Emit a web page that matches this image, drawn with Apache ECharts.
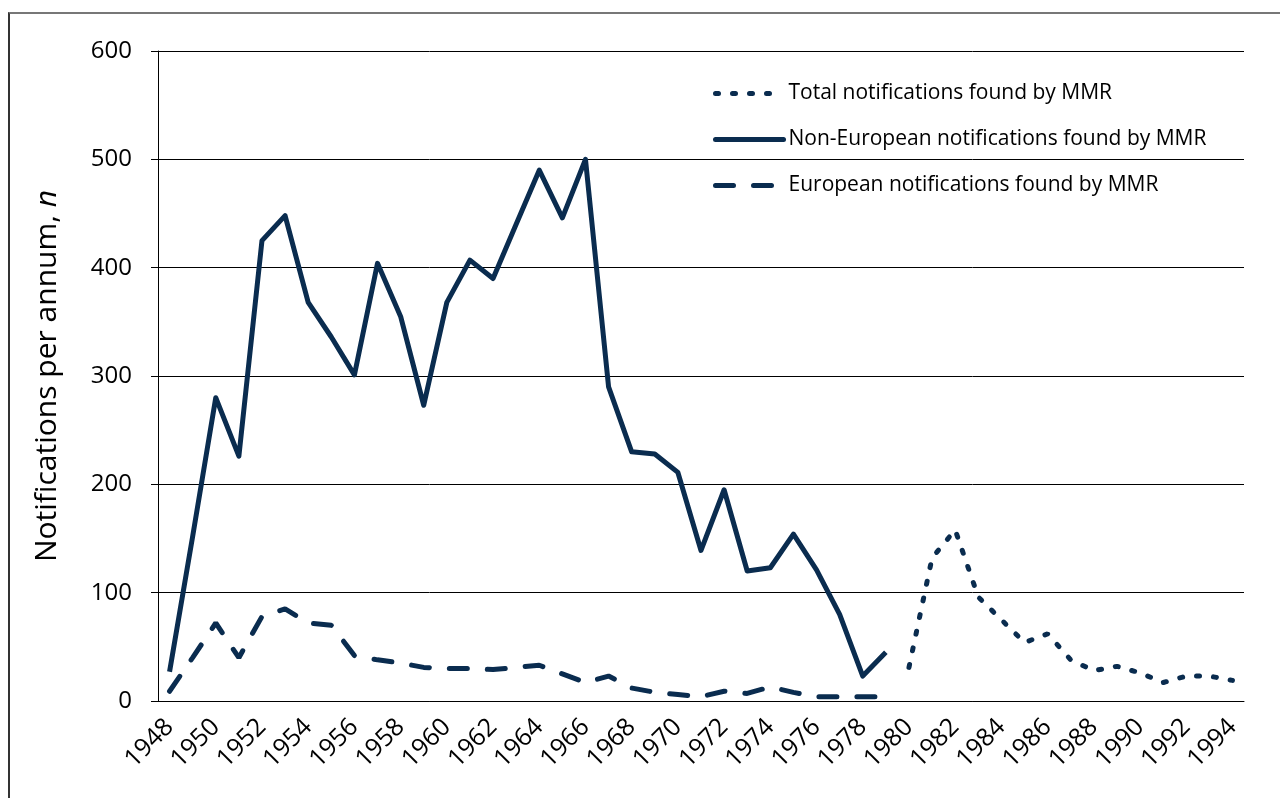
<!DOCTYPE html>
<html>
<head>
<meta charset="utf-8">
<script src="https://cdn.jsdelivr.net/npm/echarts@6/dist/echarts.min.js"></script>
<style>
    html, body { margin: 0; padding: 0; background: #fff; }
    #frame {
        position: absolute; left: 8px; top: 12px; width: 1290px; height: 800px;
        border-left: 2px solid #333; border-top: 2px solid #777;
    }
    #chart { position: absolute; left: 0; top: 0; width: 1280px; height: 798px; }
</style>
</head>
<body>
<div id="frame"></div>
<div id="chart"></div>
<script>
// 年份 (x 轴类目)
const years = ['1948', '1949', '1950', '1951', '1952', '1953', '1954', '1955', '1956', '1957',
    '1958', '1959', '1960', '1961', '1962', '1963', '1964', '1965', '1966', '1967',
    '1968', '1969', '1970', '1971', '1972', '1973', '1974', '1975', '1976', '1977',
    '1978', '1979', '1980', '1981', '1982', '1983', '1984', '1985', '1986', '1987',
    '1988', '1989', '1990', '1991', '1992', '1993', '1994'];

// 1948-1979
const nonEuropean = [27, 152, 280, 226, 425, 448, 368, 336, 301, 404,
    355, 273, 368, 407, 390, 440, 490, 446, 500, 290,
    230, 228, 211, 139, 195, 120, 123, 154, 121, 80,
    23, 45];
const european = [9, 40, 72, 40, 78, 85, 72, 70, 42, 38,
    35, 31, 30, 30, 29, 31, 33, 25, 17, 23,
    12, 8, 6, 4, 9, 7, 13, 8, 4, 4,
    4, 4];
// 1980-1994
const total = [31, 132, 158, 96, 75, 54, 62, 38, 28, 32, 26, 17, 23, 23, 19];

const yTicks = [0, 100, 200, 300, 400, 500, 600];

const NAVY = '#0a2c4f';
const FONT = 'Open Sans';

// 补齐到全部年份
function pad(values, start) {
    return years.map((y, i) => {
        const k = i - start;
        return (k >= 0 && k < values.length) ? values[k] : null;
    });
}

const chart = echarts.init(document.getElementById('chart'));

const option = {
    animation: false,
    textStyle: { fontFamily: FONT, color: '#000' },
    grid: { left: 158, right: 36, top: 51, bottom: 97 },
    legend: {
        orient: 'vertical',
        left: 713,
        top: 83,
        padding: 0,
        itemWidth: 68,
        itemHeight: 14,
        itemGap: 25,
        itemStyle: { opacity: 0 },
        lineStyle: { width: 5, cap: 'round' },
        textStyle: { fontFamily: FONT, fontSize: 21, color: '#000' },
        data: ['Total notifications found by MMR', 'Non-European notifications found by MMR', 'European notifications found by MMR']
    },
    xAxis: {
        type: 'category',
        data: years,
        boundaryGap: true,
        axisLine: { lineStyle: { color: '#000', width: 1 } },
        axisTick: { interval: 0, length: 9, lineStyle: { color: '#000' } },
        axisLabel: {
            interval: 1,
            rotate: 45,
            margin: 22,
            fontSize: 25,
            fontFamily: FONT,
            color: '#000'
        }
    },
    yAxis: {
        type: 'value',
        min: 0,
        max: 600,
        interval: 100,
        name: '{a|Notifications per annum, }{b|n}',
        nameLocation: 'middle',
        nameGap: 96,
        nameTextStyle: {
            rich: {
                a: { fontFamily: FONT, fontSize: 30, color: '#000' },
                b: { fontFamily: FONT, fontSize: 30, color: '#000', fontStyle: 'italic' }
            }
        },
        axisLine: { show: true, lineStyle: { color: '#000', width: 1 } },
        axisTick: { show: true, length: 7, lineStyle: { color: '#000' } },
        axisLabel: {
            margin: 26,
            fontSize: 24,
            fontFamily: FONT,
            color: '#000',
            formatter: v => yTicks.includes(v) ? String(v) : ''
        },
        splitLine: { lineStyle: { color: '#000', width: 1 } }
    },
    series: [
        {
            name: 'Total notifications found by MMR',
            type: 'line',
            data: pad(total, 32),
            showSymbol: false,
            symbol: 'none',
            lineStyle: { color: NAVY, width: 5, type: [3, 14], cap: 'round' },
            itemStyle: { color: NAVY }
        },
        {
            name: 'Non-European notifications found by MMR',
            type: 'line',
            data: pad(nonEuropean, 0),
            showSymbol: false,
            symbol: 'none',
            lineStyle: { color: NAVY, width: 5, join: 'round' },
            itemStyle: { color: NAVY }
        },
        {
            name: 'European notifications found by MMR',
            type: 'line',
            data: pad(european, 0),
            showSymbol: false,
            symbol: 'none',
            lineStyle: { color: NAVY, width: 5, type: [18, 20], cap: 'round' },
            itemStyle: { color: NAVY }
        }
    ]
};

chart.setOption(option);
</script>
</body>
</html>
